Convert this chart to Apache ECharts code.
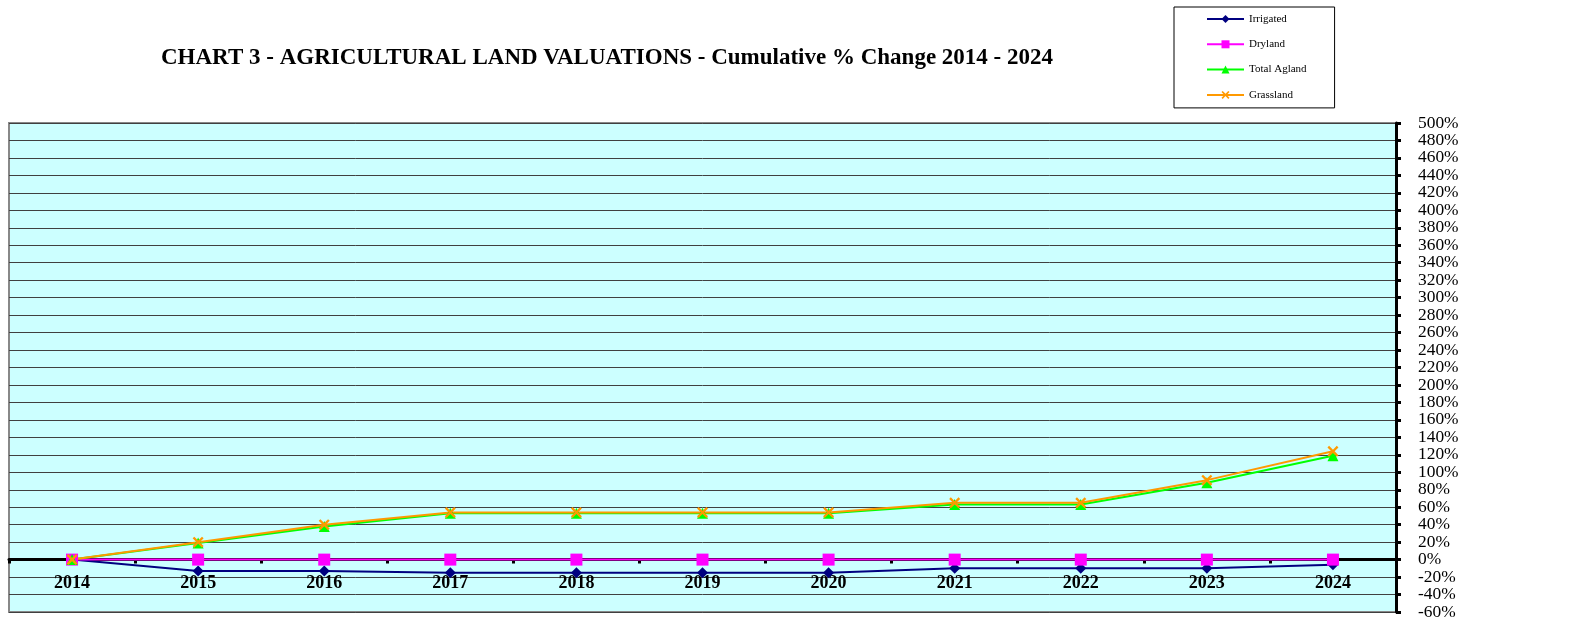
<!DOCTYPE html>
<html>
<head>
<meta charset="utf-8">
<title>Chart 3 - Agricultural Land Valuations</title>
<script src="https://cdn.jsdelivr.net/npm/echarts@6/dist/echarts.min.js"></script>
<style>
  html, body { margin: 0; padding: 0; background: #fff; }
  #chart { width: 1574px; height: 631px; }
</style>
</head>
<body>
<div id="chart"></div>
<script>
const years = ["2014", "2015", "2016", "2017", "2018", "2019", "2020", "2021", "2022", "2023", "2024"];

// cumulative % change
const irrigated = [0, -13, -13, -15, -15, -15, -15, -10, -10, -10, -6];
const dryland = [0, 0, 0, 0, 0, 0, 0, 0, 0, 0, 0];
const totalAgland = [0, 19, 38, 53, 53, 53, 53, 63, 63, 88, 119];
const grassland = [0, 20, 40, 54, 54, 54, 54, 65, 65, 91, 124];

const yMin = -60;
const yMax = 500;
const yStep = 20;

const serif = "'Liberation Serif', 'DejaVu Serif', serif";
const crossPath = "path://M0,1.5L1.5,0L5,3.5L8.5,0L10,1.5L6.5,5L10,8.5L8.5,10L5,6.5L1.5,10L0,8.5L3.5,5Z";

const gridTop = 123;
const gridBottom = 19;
const plotHeight = 631 - gridTop - gridBottom;
// year labels sit under the zero line, not at the bottom of the plot
const zeroOffset = -plotHeight * (0 - yMin) / (yMax - yMin);

const chart = echarts.init(document.getElementById("chart"));

function lineSeries(name, data, color, symbol, size) {
  return {
    name,
    type: "line",
    data,
    symbol,
    symbolSize: size,
    showAllSymbol: true,
    lineStyle: { color, width: 2 },
    itemStyle: { color },
    emphasis: { disabled: true },
    z: 3
  };
}

chart.setOption({
  animation: false,
  title: {
    text: "CHART 3 - AGRICULTURAL LAND VALUATIONS - Cumulative % Change 2014 - 2024",
    left: 602,
    top: 42,
    textAlign: "center",
    textStyle: { fontFamily: serif, fontSize: 23, fontWeight: "bold", color: "#000" }
  },
  legend: {
    orient: "vertical",
    left: 1174,
    top: 7,
    padding: [6, 28, 7, 32],
    itemGap: 13.3,
    itemWidth: 37,
    itemHeight: 10,
    borderColor: "#000",
    borderWidth: 1,
    textStyle: { fontFamily: serif, fontSize: 11, lineHeight: 12, color: "#000" },
    data: ["Irrigated", "Dryland", "Total Agland", "Grassland"]
  },
  grid: {
    left: 9,
    right: 178,
    top: gridTop,
    bottom: gridBottom,
    containLabel: false,
    outerBoundsMode: "none",
    show: true,
    backgroundColor: "#CCFFFF",
    borderColor: "#888",
    borderWidth: 2
  },
  xAxis: [
    {
      type: "category",
      data: years,
      boundaryGap: true,
      axisLine: { onZero: true, lineStyle: { color: "#000", width: 3 } },
      axisTick: { show: true, inside: false, length: 4, lineStyle: { color: "#000", width: 3 } },
      axisLabel: { show: false },
      splitLine: { show: false }
    },
    {
      type: "category",
      data: years,
      position: "bottom",
      offset: zeroOffset,
      boundaryGap: true,
      axisLine: { show: false },
      axisTick: { show: false },
      axisLabel: { fontFamily: serif, fontSize: 18, fontWeight: "bold", color: "#000", margin: 15 },
      splitLine: { show: false }
    }
  ],
  yAxis: {
    type: "value",
    position: "right",
    min: yMin,
    max: yMax,
    interval: yStep,
    axisLine: { show: true, lineStyle: { color: "#000", width: 3 } },
    axisTick: { show: true, length: 5, lineStyle: { color: "#000", width: 3 } },
    axisLabel: {
      formatter: "{value}%",
      fontFamily: serif,
      fontSize: 17.4,
      color: "#000",
      margin: 22
    },
    splitLine: { show: true, lineStyle: { color: "#404040", width: 1 } }
  },
  series: [
    lineSeries("Irrigated", irrigated, "#000080", "diamond", 11),
    lineSeries("Dryland", dryland, "#FF00FF", "rect", 12),
    lineSeries("Total Agland", totalAgland, "#00FF00", "triangle", 11),
    lineSeries("Grassland", grassland, "#FF9900", crossPath, 11)
  ]
});
</script>
</body>
</html>
